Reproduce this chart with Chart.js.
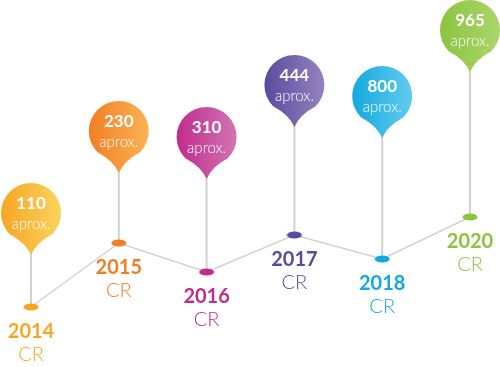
<!DOCTYPE html>
<html>
<head>
<meta charset="utf-8">
<script src="https://cdn.jsdelivr.net/npm/chart.js@4"></script>
<style>
  html, body { margin: 0; padding: 0; background: #ffffff; }
  #timeline { display: block; }
</style>
</head>
<body>
<canvas id="timeline" width="500" height="367"></canvas>
<script>
// ================================================================
// DATA
// ================================================================

const years = ['2014', '2015', '2016', '2017', '2018', '2020'];
const counts = [110, 230, 310, 444, 800, 965];
const countNote = 'aprox.';
const unitLabel = 'CR';

// height of each timeline dot and each pin head (same units as the y axis)
const trackLevel = [60, 124, 95, 132, 108, 150];
const pinLevel = [154, 236, 230, 282, 271, 337];

// dark -> light for each year
const colorsDark = ['#f6a623', '#f27e23', '#bf2c8d', '#5a4a9e', '#14a9de', '#8bc43f'];
const colorsLight = ['#fbd35c', '#fbb453', '#d274b2', '#9383c0', '#61cbef', '#acd56d'];

// ================================================================
// HELPERS
// ================================================================

const GREY = '#d2d2d2';
const PIN_R = 30;
const PIN_TIP = 42;

function ellipseMarker(color) {
    const c = document.createElement('canvas');
    c.width = 16;
    c.height = 8;
    const g = c.getContext('2d');
    g.fillStyle = color;
    g.beginPath();
    g.ellipse(8, 4, 7.5, 3.6, 0, 0, Math.PI * 2);
    g.fill();
    return c;
}

function drawPin(ctx, cx, cy, dark, light) {
    const grad = ctx.createLinearGradient(cx - PIN_R, 0, cx + PIN_R, 0);
    grad.addColorStop(0, dark);
    grad.addColorStop(1, light);
    const a = PIN_R * Math.SQRT1_2;
    ctx.beginPath();
    ctx.arc(cx, cy, PIN_R, Math.PI * 0.75, Math.PI * 0.25);
    ctx.quadraticCurveTo(cx + 5, cy + 30, cx, cy + PIN_TIP);
    ctx.quadraticCurveTo(cx - 5, cy + 30, cx - a, cy + a);
    ctx.closePath();
    ctx.fillStyle = grad;
    ctx.fill();
}

// ================================================================
// PIN PLUGIN
// ================================================================

const pinPlugin = {
    id: 'pins',
    beforeDatasetsDraw(chart) {
        const { ctx, scales } = chart;
        ctx.save();
        ctx.strokeStyle = GREY;
        ctx.lineWidth = 2;
        years.forEach((_, i) => {
            const x = scales.x.getPixelForValue(i);
            ctx.beginPath();
            ctx.moveTo(x, scales.y.getPixelForValue(trackLevel[i]));
            ctx.lineTo(x, scales.y.getPixelForValue(pinLevel[i]) + PIN_TIP - 2);
            ctx.stroke();
        });
        ctx.restore();
    },
    afterDatasetsDraw(chart) {
        const { ctx, scales } = chart;
        ctx.save();
        ctx.textAlign = 'center';
        ctx.textBaseline = 'middle';
        years.forEach((year, i) => {
            const x = scales.x.getPixelForValue(i);
            const yDot = scales.y.getPixelForValue(trackLevel[i]);
            const yPin = scales.y.getPixelForValue(pinLevel[i]);

            drawPin(ctx, x, yPin, colorsDark[i], colorsLight[i]);

            ctx.fillStyle = '#ffffff';
            ctx.font = 'bold 17px Lato, "Open Sans", sans-serif';
            ctx.fillText(String(counts[i]), x, yPin - 9);
            ctx.font = '300 15px Lato, "Open Sans", sans-serif';
            ctx.fillText(countNote, x, yPin + 11);

            ctx.fillStyle = colorsDark[i];
            ctx.font = 'bold 20px Lato, "Open Sans", sans-serif';
            ctx.fillText(year, x, yDot + 25);
            ctx.font = '300 20px Lato, "Open Sans", sans-serif';
            ctx.fillText(unitLabel, x, yDot + 48);
        });
        ctx.restore();
    }
};

// ================================================================
// CHART
// ================================================================

new Chart(document.getElementById('timeline'), {
    type: 'line',
    data: {
        labels: years,
        datasets: [{
            data: trackLevel,
            borderColor: GREY,
            borderWidth: 1.5,
            tension: 0,
            pointStyle: colorsDark.map(ellipseMarker),
            pointRadius: 8,
            pointHoverRadius: 8,
            clip: false
        }]
    },
    options: {
        responsive: false,
        animation: false,
        layout: { autoPadding: false, padding: { left: 31, right: 30, top: 0, bottom: 0 } },
        plugins: {
            legend: { display: false },
            tooltip: { enabled: false }
        },
        scales: {
            x: { display: false, offset: false },
            y: { display: false, min: 0, max: 367 }
        }
    },
    plugins: [pinPlugin]
});
</script>
</body>
</html>
